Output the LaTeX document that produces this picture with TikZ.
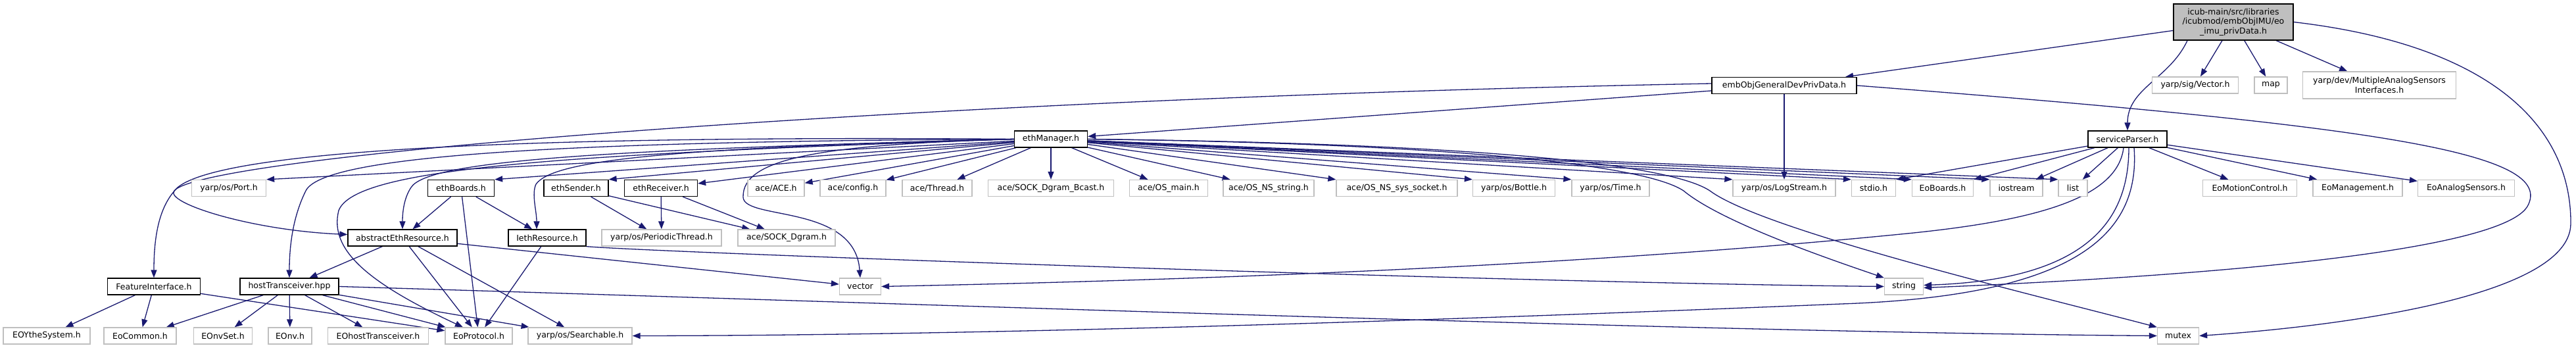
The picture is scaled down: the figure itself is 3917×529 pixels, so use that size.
\documentclass[tikz,border=0pt]{standalone}
\usepackage{fontspec}
\setmainfont{DejaVu Sans}
\usepackage{xcolor}
\usepackage{tikz}
\usetikzlibrary{arrows.meta,calc}
\definecolor{edgeblue}{RGB}{25,25,112}
\definecolor{greyline}{RGB}{191,191,191}
\pgfdeclarelayer{background}
\pgfsetlayers{background,main}

\begin{document}
\begin{tikzpicture}[
  x=1pt, y=-1pt,
  font=\fontsize{12.5}{14.5}\selectfont,
  docnode/.style={draw=black, fill=white, rectangle, line width=1.3pt, minimum height=25pt, inner sep=0pt, align=center},
  extnode/.style={draw=greyline, fill=white, rectangle, line width=1.3pt, minimum height=25pt, inner sep=0pt, align=center},
  rootnode/.style={docnode, fill=greyline, minimum height=55pt},
  >={Triangle[length=12pt,width=9pt]},
  dep/.style={->, draw=edgeblue, line width=1.3pt},
]
% level 0 and 1
\node[rootnode, minimum width=182pt] (root) at (3396,33.5) {icub-main/src/libraries\\/icubmod/embObjIMU/eo\\\_imu\_privData.h};
\node[docnode, minimum width=220pt] (devpriv) at (2713,130) {embObjGeneralDevPrivData.h};
\node[extnode, minimum width=131pt] (sigvec) at (3338,129.5) {yarp/sig/Vector.h};
\node[extnode, minimum width=50pt] (map) at (3453,129.5) {map};
\node[extnode, minimum width=233pt, minimum height=41pt] (masi) at (3618,129.5) {yarp/dev/MultipleAnalogSensors\\Interfaces.h};

% level 2
\node[docnode, minimum width=111pt] (ethmgr) at (1598,211.5) {ethManager.h};
\node[docnode, minimum width=120pt] (svcparser) at (3235,211.5) {serviceParser.h};

% level 3
\node[extnode, minimum width=113pt] (port) at (348,286) {yarp/os/Port.h};
\node[docnode, minimum width=101pt] (ethboards) at (701,286) {ethBoards.h};
\node[docnode, minimum width=98pt] (ethsender) at (876,286) {ethSender.h};
\node[docnode, minimum width=111pt] (ethrecv) at (1005,286) {ethReceiver.h};
\node[extnode, minimum width=86pt] (acehdr) at (1180,286) {ace/ACE.h};
\node[extnode, minimum width=100pt] (aceconfig) at (1297,286) {ace/config.h};
\node[extnode, minimum width=106pt] (acethread) at (1425,286) {ace/Thread.h};
\node[extnode, minimum width=191pt] (bcast) at (1598,286) {ace/SOCK\_Dgram\_Bcast.h};
\node[extnode, minimum width=119pt] (osmain) at (1777,286) {ace/OS\_main.h};
\node[extnode, minimum width=138pt] (osstring) at (1929,286) {ace/OS\_NS\_string.h};
\node[extnode, minimum width=184pt] (ossocket) at (2124,286) {ace/OS\_NS\_sys\_socket.h};
\node[extnode, minimum width=125pt] (bottle) at (2302,286) {yarp/os/Bottle.h};
\node[extnode, minimum width=118pt] (ostime) at (2449,286) {yarp/os/Time.h};
\node[extnode, minimum width=156pt] (logstream) at (2713,286) {yarp/os/LogStream.h};
\node[extnode, minimum width=67pt] (stdio) at (2849,286) {stdio.h};
\node[extnode, minimum width=93pt] (eoboards) at (2954,286) {EoBoards.h};
\node[extnode, minimum width=80pt] (iostream) at (3066,286) {iostream};
\node[extnode, minimum width=44pt] (list) at (3152,286) {list};
\node[extnode, minimum width=143pt] (eomc) at (3421,286) {EoMotionControl.h};
\node[extnode, minimum width=136pt] (eomn) at (3585,286) {EoManagement.h};
\node[extnode, minimum width=147pt] (eoas) at (3750,286) {EoAnalogSensors.h};

% level 4
\node[docnode, minimum width=166pt] (abstract) at (612,361.5) {abstractEthResource.h};
\node[docnode, minimum width=118pt] (ieth) at (832,361.5) {IethResource.h};
\node[extnode, minimum width=182pt] (periodic) at (1006,361.5) {yarp/os/PeriodicThread.h};
\node[extnode, minimum width=148pt] (sockdgram) at (1196,361.5) {ace/SOCK\_Dgram.h};

% level 5
\node[docnode, minimum width=141pt] (feature) at (234,435.5) {FeatureInterface.h};
\node[docnode, minimum width=150pt] (hosttx) at (440,435.5) {hostTransceiver.hpp};
\node[extnode, minimum width=63pt] (vector) at (1308,435.5) {vector};
\node[extnode, minimum width=59pt] (string) at (2895,435.5) {string};

% level 6
\node[extnode, minimum width=132pt] (eoy) at (71,510.5) {EOYtheSystem.h};
\node[extnode, minimum width=110pt] (eocommon) at (213,510.5) {EoCommon.h};
\node[extnode, minimum width=89pt] (nvset) at (339,510.5) {EOnvSet.h};
\node[extnode, minimum width=66pt] (eonv) at (441,510.5) {EOnv.h};
\node[extnode, minimum width=153pt] (eohost) at (575,510.5) {EOhostTransceiver.h};
\node[extnode, minimum width=102pt] (eoprot) at (728,510.5) {EoProtocol.h};
\node[extnode, minimum width=158pt] (searchable) at (882,510.5) {yarp/os/Searchable.h};
\node[extnode, minimum width=63pt] (mutex) at (3312,510.5) {mutex};

\begin{pgfonlayer}{background}
\path[use as bounding box, fill=white] (0,0) rectangle (3917,529);

% root includes
\draw[dep] (root) -- (devpriv);
\draw[dep] (root) -- (sigvec);
\draw[dep] (root) -- (map);
\draw[dep] (root) -- (masi);
\draw[dep] ([xshift=-70pt]root.south) to[out=-115,in=90] (svcparser.north);
\draw[dep] (root.east) .. controls (3800,70) and (3910,200) .. (3909,340) .. controls (3908,460) and (3500,500) .. (mutex.east);

% embObjGeneralDevPrivData.h includes
\draw[dep] (devpriv) -- (ethmgr);
\draw[dep] (devpriv.south) -- (logstream.north);
\draw[dep] ([yshift=3pt]devpriv.west) .. controls (1400,150) and (310,235) .. (265,290) .. controls (250,308) and (380,350) .. ([yshift=5pt]abstract.west);
\draw[dep] (devpriv.east) .. controls (3600,190) and (3880,230) .. (3845,310) .. controls (3810,400) and (3100,430) .. ([yshift=-2pt]string.east);

% ethManager.h includes
\draw[dep] (ethmgr) -- (port.north east);
\draw[dep] (ethmgr) -- (ethboards.north east);
\draw[dep] (ethmgr) -- (ethsender.north east);
\draw[dep] (ethmgr) -- (ethrecv);
\draw[dep] (ethmgr) -- (acehdr);
\draw[dep] (ethmgr) -- (aceconfig);
\draw[dep] (ethmgr) -- (acethread);
\draw[dep] (ethmgr) -- (bcast);
\draw[dep] (ethmgr) -- (osmain);
\draw[dep] (ethmgr) -- (osstring);
\draw[dep] (ethmgr) -- (ossocket);
\draw[dep] (ethmgr) -- (bottle.north west);
\draw[dep] (ethmgr) -- (ostime.north west);
\draw[dep] (ethmgr) -- (logstream.north west);
\draw[dep] (ethmgr) -- (stdio.north west);
\draw[dep] (ethmgr) -- (eoboards.north west);
\draw[dep] (ethmgr) -- (iostream.north west);
\draw[dep] (ethmgr) -- (list.north west);
\draw[dep] (ethmgr.west) .. controls (700,205) and (330,235) .. (270,285) .. controls (245,310) and (234,350) .. (feature.north);
\draw[dep] (ethmgr.west) .. controls (800,215) and (490,240) .. (465,290) .. controls (450,320) and (440,360) .. (hosttx.north);
\draw[dep] (ethmgr.west) .. controls (850,235) and (540,255) .. (515,320) .. controls (500,380) and (560,430) .. ([xshift=-24pt]eoprot.north);
\draw[dep] (ethmgr.west) .. controls (900,228) and (650,245) .. (625,285) .. controls (615,300) and (612,320) .. (abstract.north);
\draw[dep] (ethmgr.west) .. controls (1000,225) and (840,245) .. (815,280) .. controls (808,295) and (816,320) .. ([xshift=-16pt]ieth.north);
\draw[dep] (ethmgr.west) .. controls (1250,220) and (1128,240) .. (1130,300) .. controls (1132,335) and (1300,310) .. (vector.north);
\draw[dep] (ethmgr.east) .. controls (2200,218) and (2500,250) .. (2560,290) .. controls (2620,340) and (2800,400) .. (string.north west);
\draw[dep] (ethmgr.east) .. controls (2250,218) and (2540,250) .. (2600,290) .. controls (2680,350) and (3100,450) .. (mutex.north west);

% serviceParser.h includes
\draw[dep] (svcparser) -- (stdio.north east);
\draw[dep] (svcparser) -- (eoboards.north east);
\draw[dep] (svcparser) -- (iostream);
\draw[dep] (svcparser) -- (list);
\draw[dep] (svcparser) -- (eomc);
\draw[dep] (svcparser) -- (eomn);
\draw[dep] (svcparser) -- (eoas);
\draw[dep] ([xshift=-6pt]svcparser.south) .. controls (3220,300) and (3100,335) .. (2900,355) .. controls (2300,415) and (1600,430) .. (vector.east);
\draw[dep] ([xshift=2pt]svcparser.south) .. controls (3237,330) and (3180,425) .. ([yshift=2pt]string.east);
\draw[dep] ([xshift=10pt]svcparser.south) .. controls (3255,360) and (3150,450) .. (2800,462) .. controls (2000,495) and (1400,510) .. (searchable.east);

% second row includes
\draw[dep] (ethboards) -- (abstract);
\draw[dep] (ethboards) -- (ieth);
\draw[dep] (ethboards) -- (eoprot);
\draw[dep] (ethsender) -- (periodic);
\draw[dep] (ethsender) -- (sockdgram);
\draw[dep] (ethrecv) -- (periodic);
\draw[dep] (ethrecv) -- (sockdgram);

% resource headers
\draw[dep] (abstract) -- (hosttx);
\draw[dep] (abstract) -- (eoprot);
\draw[dep] (abstract) -- (searchable);
\draw[dep] (abstract) -- (vector);
\draw[dep] (ieth) -- (eoprot);
\draw[dep] (ieth.south east) .. controls (1000,384) and (2300,430) .. (string.west);

% bottom level
\draw[dep] (feature) -- (eoy);
\draw[dep] (feature) -- (eocommon);
\draw[dep] (feature) -- (eoprot);
\draw[dep] (hosttx) -- (eocommon);
\draw[dep] (hosttx) -- (nvset);
\draw[dep] (hosttx) -- (eonv);
\draw[dep] (hosttx) -- (eohost);
\draw[dep] (hosttx) -- (eoprot);
\draw[dep] (hosttx) -- (searchable);
\draw[dep] (hosttx.east) .. controls (1500,465) and (2600,505) .. (mutex.west);
\end{pgfonlayer}
\end{tikzpicture}
\end{document}
